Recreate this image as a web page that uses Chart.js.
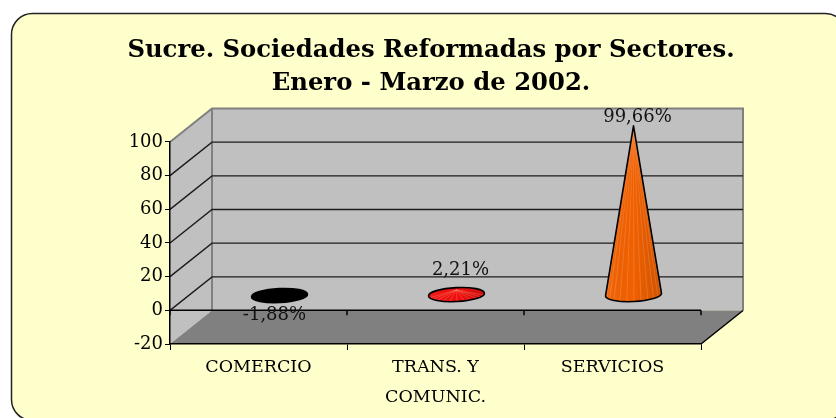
<!DOCTYPE html>
<html><head><meta charset="utf-8">
<style>html,body{margin:0;padding:0;background:#fff}canvas{display:block}</style>
<script src="https://cdn.jsdelivr.net/npm/chart.js@4"></script>
</head><body>
<div style="width:836px;height:418px"><canvas id="c" width="836" height="418"></canvas></div>
<script>
const titleLines = ['Sucre. Sociedades Reformadas por Sectores.', 'Enero - Marzo de 2002.'];
const categories = ['COMERCIO', ['TRANS. Y', 'COMUNIC.'], 'SERVICIOS'];
const values = [-1.88, 2.21, 99.66];
const valueLabels = ['-1,88%', '2,21%', '99,66%'];
const coneColors = ['#000000', '#F01010', '#F06000'];
const tickValues = [-20, 0, 20, 40, 60, 80, 100];

const serif = '"DejaVu Serif"';
const DEPTH = {x: 42, y: -33.5};
const CONE = {rx: 28, ry: 7, tilt: -0.05};

// 3-D cone drawn from the bar element's scale-derived geometry
const BarEl = Chart.registry.getElement('bar');
BarEl.prototype.draw = function (ctx) {
  const cx = this.x + DEPTH.x / 2;
  const by = this.base + DEPTH.y / 2 + 1.5;
  const tipY = this.y + DEPTH.y / 2;
  const tipX = cx;
  const {rx, ry, tilt} = CONE;
  const flat = by - tipY < ry * 1.5;
  const pt = a => ({
    x: cx + rx * Math.cos(a) * Math.cos(tilt) - ry * Math.sin(a) * Math.sin(tilt),
    y: by + rx * Math.cos(a) * Math.sin(tilt) + ry * Math.sin(a) * Math.cos(tilt)
  });
  const shape = () => {
    ctx.beginPath();
    if (flat) {
      ctx.ellipse(cx, by, rx, ry, tilt, 0, Math.PI * 2);
    } else {
      ctx.ellipse(cx, by, rx, ry, tilt, 0, Math.PI);
      ctx.lineTo(tipX, tipY);
    }
    ctx.closePath();
  };
  ctx.save();
  shape();
  ctx.fillStyle = this.options.backgroundColor;
  ctx.fill();
  ctx.clip();
  if (this.options.backgroundColor !== '#000000') {
    const g = ctx.createLinearGradient(cx - rx, 0, cx + rx, 0);
    g.addColorStop(0, 'rgba(255,255,255,0.06)');
    g.addColorStop(0.5, 'rgba(0,0,0,0)');
    g.addColorStop(1, 'rgba(0,0,0,0.14)');
    ctx.fillStyle = g;
    ctx.fillRect(cx - rx - 2, Math.min(tipY, by - ry) - 2, 2 * rx + 4, Math.abs(by - tipY) + 2 * ry + 6);
    ctx.strokeStyle = 'rgba(255,190,150,0.35)';
    ctx.lineWidth = 0.7;
    for (let i = 1; i < 12; i++) {
      const p = pt(Math.PI * i / 12);
      ctx.beginPath(); ctx.moveTo(tipX, tipY); ctx.lineTo(p.x, p.y); ctx.stroke();
    }
  }
  ctx.restore();
  ctx.save();
  shape();
  ctx.strokeStyle = '#000';
  ctx.lineWidth = 1.6;
  ctx.lineJoin = 'round';
  ctx.stroke();
  ctx.restore();
};

const scene = {
  id: 'scene',
  beforeDraw(chart) {
    const {ctx, scales: {x, y}} = chart;
    const L = x.left, R = x.right;
    const top = y.getPixelForValue(100), zero = y.getPixelForValue(0), bot = y.getPixelForValue(-20);
    const dx = DEPTH.x, dy = DEPTH.y;
    ctx.save();
    // panel
    ctx.beginPath();
    ctx.roundRect(11.5, 13.5, 835, 407, 21);
    ctx.fillStyle = '#FFFFCC'; ctx.fill();
    ctx.strokeStyle = '#222'; ctx.lineWidth = 1.5; ctx.stroke();
    // back wall
    ctx.fillStyle = '#C0C0C0';
    ctx.fillRect(L + dx, top + dy, R - L, bot - top);
    // side wall
    ctx.beginPath();
    ctx.moveTo(L, top); ctx.lineTo(L + dx, top + dy); ctx.lineTo(L + dx, bot + dy); ctx.lineTo(L, bot);
    ctx.closePath(); ctx.fill();
    // floor
    ctx.fillStyle = '#808080';
    ctx.beginPath();
    ctx.moveTo(L, bot); ctx.lineTo(L + dx, bot + dy); ctx.lineTo(R + dx, bot + dy); ctx.lineTo(R, bot);
    ctx.closePath(); ctx.fill();
    // wall borders
    ctx.strokeStyle = '#808080'; ctx.lineWidth = 2;
    ctx.beginPath();
    ctx.moveTo(L, top); ctx.lineTo(L + dx, top + dy); ctx.lineTo(R + dx, top + dy); ctx.lineTo(R + dx, bot + dy);
    ctx.moveTo(L + dx, top + dy); ctx.lineTo(L + dx, bot + dy);
    ctx.stroke();
    // gridlines
    ctx.strokeStyle = '#1c1c1c'; ctx.lineWidth = 1.4;
    tickValues.forEach(v => {
      if (v === 100 || v === -20) return;
      const p = y.getPixelForValue(v);
      ctx.beginPath(); ctx.moveTo(L, p); ctx.lineTo(L + dx, p + dy); ctx.lineTo(R + dx, p + dy); ctx.stroke();
    });
    // zero line with its ticks
    ctx.strokeStyle = '#000'; ctx.lineWidth = 1.5;
    ctx.beginPath(); ctx.moveTo(L, zero); ctx.lineTo(R, zero);
    for (let i = 0; i <= categories.length; i++) {
      const px = L + (R - L) * i / categories.length;
      ctx.moveTo(px, zero); ctx.lineTo(px, zero + 5);
    }
    // floor edges
    ctx.moveTo(R, bot); ctx.lineTo(R + dx, bot + dy);
    ctx.stroke();
    ctx.restore();
  },
  afterDatasetsDraw(chart) {
    const {ctx} = chart;
    const els = chart.getDatasetMeta(0).data;
    ctx.save();
    ctx.font = '18px ' + serif;
    ctx.fillStyle = '#111';
    ctx.textAlign = 'center';
    ctx.textBaseline = 'middle';
    const offs = [{x: -5, y: 0}, {x: 4, y: -20}, {x: 4, y: -8}];
    els.forEach((el, i) => {
      const cx = el.x + DEPTH.x / 2 + offs[i].x;
      const yy = values[i] < 0
        ? chart.scales.y.getPixelForValue(0) + 5
        : el.y + DEPTH.y / 2 + offs[i].y;
      ctx.fillText(valueLabels[i], cx, yy);
    });
    ctx.restore();
  }
};

new Chart(document.getElementById('c'), {
  type: 'bar',
  data: {
    labels: categories,
    datasets: [{
      data: values,
      backgroundColor: coneColors,
      clip: false,
      barPercentage: 0.3,
      categoryPercentage: 1
    }]
  },
  plugins: [scene],
  options: {
    responsive: false,
    animation: false,
    layout: {padding: {left: 26, right: 0, top: 34, bottom: 12}},
    plugins: {
      legend: {display: false},
      tooltip: {enabled: false},
      title: {
        display: true,
        text: titleLines,
        color: '#000',
        font: {family: serif, size: 24.3, weight: 'bold', lineHeight: 1.358},
        padding: {top: 0, bottom: 42}
      }
    },
    scales: {
      x: {
        type: 'category',
        offset: true,
        afterFit(s) { s.height = 62; },
        border: {display: true, color: '#000', width: 1.5},
        grid: {display: true, drawOnChartArea: false, drawTicks: true, tickLength: 6, color: '#000', offset: true},
        ticks: {color: '#000', font: {family: serif, size: 17.5, lineHeight: 1.69}, padding: 3, maxRotation: 0, autoSkip: false}
      },
      y: {
        type: 'linear',
        min: -20,
        max: 100,
        afterFit(s) { s.width = 144; },
        afterBuildTicks(s) { s.ticks = tickValues.map(v => ({value: v})); },
        border: {display: true, color: '#000', width: 1.5},
        grid: {display: true, drawOnChartArea: false, drawTicks: true, tickLength: 5, color: '#000'},
        ticks: {color: '#000', font: {family: serif, size: 18}, padding: 2}
      },
      spacer: {
        type: 'linear',
        position: 'right',
        display: true,
        afterFit(s) { s.width = 135; },
        border: {display: false},
        grid: {display: false, drawTicks: false},
        ticks: {display: false}
      }
    }
  }
});
</script>
</body></html>
